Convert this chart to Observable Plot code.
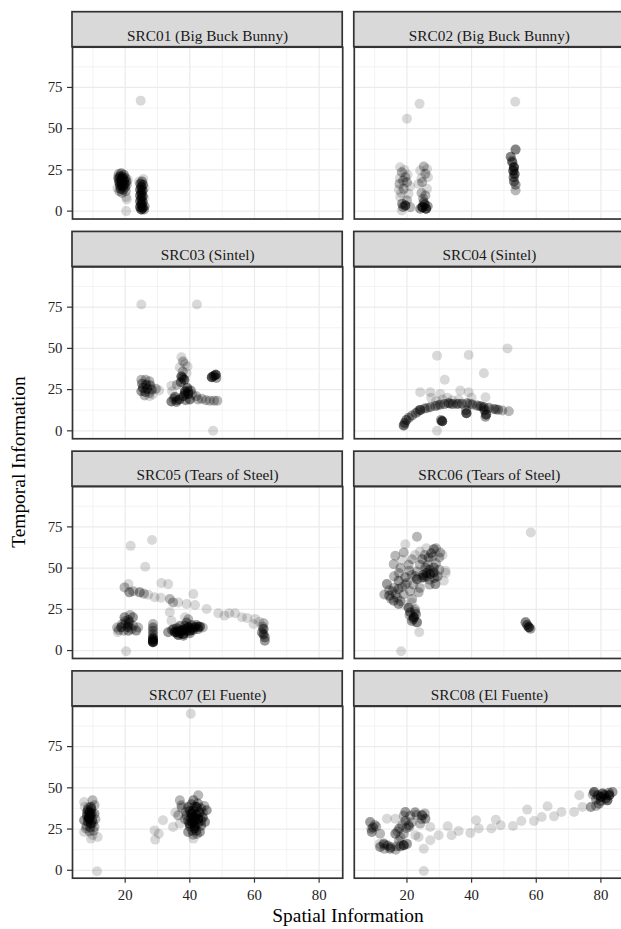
<!DOCTYPE html>
<html><head><meta charset="utf-8">
<script src="https://cdn.jsdelivr.net/npm/d3@7"></script>
<script src="https://cdn.jsdelivr.net/npm/@observablehq/plot@0.6"></script>
<style>
body{margin:0;background:#fff;}
#wrap{position:relative;width:621px;height:929px;overflow:hidden;font-family:"Liberation Serif","Times New Roman",serif;}
.ttl{position:absolute;font-size:19.4px;line-height:19px;color:#000;white-space:nowrap;}
</style></head><body>
<div id="wrap"></div>
<script>
// ---- data: [spatial information, temporal information, frames stacked at that spot]
const panelLabels = ["SRC01 (Big Buck Bunny)","SRC02 (Big Buck Bunny)","SRC03 (Sintel)","SRC04 (Sintel)","SRC05 (Tears of Steel)","SRC06 (Tears of Steel)","SRC07 (El Fuente)","SRC08 (El Fuente)"];
const src01 = [[18.0,22.5,2],[18.8,23,3],[19.6,22,3],[18.4,21,4],[19.2,20.5,5],[20.1,20,3],[18.0,19.5,4],[18.8,19,5],[19.6,18.5,5],[20.4,18,3],[18.2,17.5,5],[19.0,17,5],[19.8,16.5,5],[20.5,16,2],[18.4,15.5,5],[19.2,15,5],[20,14.5,3],[18.6,13.5,4],[19.4,13,3],[18.2,12,2],[20.2,12,2],[19,11,2],[17.6,14,1],[17.8,20.5,2],[20.8,19,1],[20.3,8.5,1],[20.5,7,1],[20.3,0,1],
[25.6,19.5,1],[25.2,18,3],[24.7,16.5,4],[25.5,16,4],[25.0,14.5,5],[24.6,13,4],[25.4,12.5,5],[25.0,11,5],[24.6,9.5,4],[25.4,9,5],[25.0,7.5,5],[24.6,6,4],[25.4,5.5,5],[25.0,4,6],[24.6,2.5,5],[25.4,2,6],[25.0,1,6],[25.8,1,3],[26.0,3,3],[25.9,8,1],[26,14,1],[24.3,18,1],[24.8,67,1]];
const src02 = [[17.9,26.6,1],[18.4,23.6,2],[19.5,20.6,2],[17.7,16.5,2],[20,17.5,2],[18.8,18.5,2],[19,13.5,2],[18.2,11,1],[20.5,10.5,1],[17.9,8.5,1],[20,6.5,2],[19.5,3.4,6],[18.8,2.5,3],[18.4,0.4,1],[21,2.4,2],[18.5,4.5,3],[17.5,13,1],[20.2,22,1],[19.2,25,1],[17.8,20,1],[21,15,1],
[25.2,27,2],[25.7,22.6,2],[24.1,24.6,1],[24.7,17.5,2],[26.2,13.5,1],[23.6,16.5,1],[25.7,9.5,2],[25.2,5.4,3],[24.8,2.4,8],[25.9,1.4,7],[24.1,1.4,3],[26.4,3,3],[26.5,20.5,1],[24.5,11,2],[25,7.5,2],[25.5,4,4],[26.2,25.5,1],[24.5,20,1],
[53.6,37.3,4],[52.1,33,4],[52.6,29.6,4],[53.1,26.6,7],[52.9,24.5,6],[53.3,22.5,5],[53.0,20.6,4],[53.1,18,4],[53.6,16,3],[53.6,12.5,2],[52.5,30.5,2],
[23.9,65.1,1],[20,56,1],[53.5,66.3,1]];
const src03 = [[25,76.6,1],[42.2,76.6,1],[47.2,0,1],
[25,31,2],[26.3,31,2],[27.5,30,2],[25.2,28.5,3],[26.5,28,4],[27.8,27.5,3],[25.5,26,4],[26.8,25.5,4],[28.2,25,3],[25,24,3],[26.2,23.5,3],[27.5,23,2],[29.5,25.5,2],[30.5,24.5,1],[26,21.5,2],[27.5,21,1],[28.5,22,1],
[37.4,44.6,1],[37.9,42,2],[38.5,40.5,1],[36.9,38.5,1],[39.3,39,1],[37.8,36,2],[37.4,33,5],[38.3,31,5],[37.2,29.5,4],[36,28,2],[34.3,27.4,1],[34.5,24,1],[35.4,20.5,4],[34.3,17.8,4],[35.8,17.5,3],[36.8,19,4],[38,21,5],[39.5,22.4,5],[38.5,24,5],[39.2,26,4],[40.3,24.5,3],[40.8,22,2],[40,19,4],[38.7,18.5,3],[39,35,1],
[37.8,32,3],[38.5,22.5,3],[36,18.5,3],[35,19.5,2],[39.5,24,3],
[42,21,2],[42.5,19,2],[43.7,19.4,2],[45,18.5,2],[46.2,18.3,2],[47.5,18.3,2],[48.5,18.2,2],
[46.8,32.5,7],[48,34,7],[47.4,33.2,4],[48.2,32,3]];
const src04 = [[29.3,45.6,1],[39.1,46,1],[51.1,50,1],[31.7,31,1],[43.8,34.9,1],[44.3,20.4,1],[24.1,23.4,1],[27.2,23.4,1],[30.3,22.4,1],[36.5,24.4,1],[39.1,23.4,1],[29.3,0,1],[27.5,20,1],[32.5,20,1],[40,20,1],[31,19,1],[34,18.5,1],[36,19,1],[29,18,1],
[19,3.2,5],[19.3,4.8,4],[19.8,6.5,4],[20.6,8,3],[21.6,9.3,3],[22.8,10.8,3],[24.1,12.7,6],[25.5,13.5,3],[27.2,14.3,3],[28.8,15,3],[30.3,15.9,3],[31.6,16.2,3],[32.9,16.7,4],[34.2,16.2,3],[35.5,16.3,3],[37,16.5,3],[38.6,16.7,3],[40.2,16,3],[41.7,15.3,3],[43,14.8,3],[43.8,14.3,4],[45.3,14,3],[46.9,13.3,3],[48.2,12.8,3],[49.5,12.3,2],[51.5,11.9,2],
[33.5,16.5,2],[36,16.5,2],[39.5,16.4,2],[42.5,15,2],[26.3,13.8,2],[23.4,11.8,2],[47.5,13,2],[29.5,15.5,2],
[30.9,5.8,8],[30.5,6.5,3],[38.4,10.7,7],[38.3,12.5,3],[44.5,9.9,6],[44,12.5,4],[44.3,8.5,3]];
const src05 = [[21.7,63.5,1],[28.3,67.1,1],[26.2,50.8,1],[20.3,-0.4,1],
[19.8,38.3,2],[21,40.3,1],[21.3,35.3,3],[22.5,36,2],[24.5,35.3,3],[25.8,34.5,2],[27.1,33.9,1],[29.1,32.3,1],[31.2,40.9,1],[33.3,40.3,1],[31,32,1],[33.8,31.3,2],[34.8,29.2,2],[33.8,23.2,1],[36.4,29.2,1],[39,28.2,1],[41.1,34.3,1],[41.6,27.6,1],[45.2,25.2,1],[48.8,22.6,1],[50.7,21.2,1],[52.2,22.6,1],[54,22.6,1],[56.1,20.2,1],[57.7,19.8,1],[60.2,19.2,1],[59.7,16.1,1],[62.8,16.5,2],[61.5,17.5,1],
[62.8,13.1,4],[62.3,11,3],[62.8,9.7,4],[63.2,8,3],[63.2,6,3],[62.5,14.5,2],
[18.8,14.1,4],[20.8,14.1,4],[22.4,20.2,3],[19.8,20.2,3],[21,18.5,3],[23.4,12.1,3],[17.7,11.1,1],[21.3,17.1,3],[17.5,14,2],[21,12,3],[24,14,2],[21.5,21.5,2],[19.5,12,2],[22.5,15,2],[20,16.5,2],
[19,16,2],[21,15.5,3],[22,13,2],[20,18,2],[18,12.5,2],
[28.6,16.1,2],[28.6,14,3],[28.6,12,3],[28.6,10,3],[28.6,8,4],[28.6,6.5,6],[28.6,5,8],[28.6,5.5,4],[28.6,7,3],
[35.4,11.1,6],[37.4,12.1,8],[39.5,14.1,7],[41.6,14.1,5],[43.1,14.5,5],[36.4,9.5,5],[34.3,18.1,1],[38.5,20.2,1],[33.3,11.1,3],[38,10,6],[40,12,6],[39,17,3],[37,15,3],[42,15.5,3],[34.5,12.5,3],[36,13.5,4],[38.5,13,4],[40.5,15.5,3],[38,9,3],[40,10.5,3],[42.5,13,3],[39.5,19,2],
[36,11,4],[37,10.5,4],[39,12,4],[41,12.5,4],[42.5,14.5,3],[35,13,3],[38.5,15,3],[40.5,13.5,4],[44,14,2],[36.5,12,3]];
const src06 = [[58.3,71.6,1],[18.2,-0.4,1],[23.1,69,2],[23.8,11.1,1],
[19.5,64.5,1],[16.4,57.5,2],[19,59.5,2],[15.9,52.4,2],[21.6,55.4,2],[24.7,55.4,3],[28.3,61.5,3],[30.3,59.5,2],[26.7,56.5,3],[27.5,59,3],[31.9,48.4,1],[27.2,46.4,4],[25.2,44.4,4],[23.1,43.3,4],[19.5,44.4,3],[17.4,42.3,3],[13.8,40.3,3],[17.4,37.3,3],[14.5,33.3,3],[17.4,28.2,3],[15.9,30.2,3],[23.6,35.3,2],[21.6,31.3,2],[28.8,40.3,3],[31.4,42.3,1],[28.3,47.4,4],[28.3,50.4,3],[25.7,50.4,3],[20.7,48.4,2],[22,40,2],[26,47,4],[29.5,45,3],[30,56.5,2],[18,50,2],[21,36,2],[15.5,36,2],[13,34,2],[20.5,26,2],[24,60,1],[29,62,2],[24,52,2],[21.5,46,2],[19,34,2],[16,45,2],[23,48,2],[27,43,2],[31,58,1],[26,62,1],[18.5,55,1],[32,47,1],
[25,46,3],[27,49,3],[24.5,44,2],[22.5,45,2],[20,41,2],[18.5,38.5,2],[16,38,2],[15,31.5,2],[17,32,2],[18,30,2],[26.5,52,2],[29,53,2],[28,57,2],[25.5,58,2],[22.5,58,1],[20.5,52,2],[17.5,47,2],[19.5,40,2],[24,38,2],[27,40,2],[30,49,2],[28.5,44,3],[26,45,3],[14.5,36.5,2],[16.5,34,2],
[22.1,20.2,6],[21,23.2,4],[23.1,17.1,4],[21.5,18,3],[22.5,25,2],[22.8,22,3],[20.5,26,2],[20.8,21.5,2],[22,19,3],[22.5,23.5,2],[21.5,29,1],[19,28,1],
[56.7,17.1,4],[57.7,14.1,7],[57.2,15.5,4],[58.2,13.2,3]];
const src07 = [[40.3,95,1],[11.3,-0.6,1],
[7.3,41.4,1],[9.9,42.4,2],[8.4,36.4,4],[9.4,38.4,4],[8.9,31.3,6],[7.3,30.3,3],[10.5,34.3,3],[9.4,28.3,5],[7.9,25.3,2],[10.5,26.3,2],[7.3,23.2,1],[9.9,21.2,1],[11.5,20.2,1],[9.4,19.2,1],[9.2,33.3,6],[8.2,33,4],[10.8,31,2],[9,35,5],[8.5,29.5,4],[10,29,3],[9.5,37,3],[8,27,2],[10.2,24,2],[9,23.5,2],[10.5,39.5,2],[7.5,38.5,1],
[8.8,32,4],[9.6,34.5,4],[8.2,35,3],[9.8,30.5,3],[8.6,38,2],[9.2,26,3],[8.6,31.5,3],
[29.1,24.2,1],[29.3,18.6,1],[30.4,22.2,1],[31.7,30.3,1],[34.8,26.3,1],[36.9,28.3,1],[36.4,33.3,2],[36.9,42.4,2],[37.5,38,2],[35.5,35,1],
[42.6,45.5,2],[41.1,42.4,3],[39.5,38.4,3],[42.1,38.4,5],[45.2,36.4,3],[40.5,34.3,7],[42.6,31.3,7],[39.9,28.3,5],[44.7,29.3,3],[41.5,25.3,5],[39.5,23.2,3],[43.1,23.2,3],[41.1,19.2,1],[37.4,39.4,2],[41.2,32.3,8],[40.8,29,7],[43,35,5],[44,32,4],[40,36,4],[41.5,27,6],[38.5,31,2],[42.5,40.5,3],[43.5,27,3],[41,21.5,2],[44.5,39,2],[39,33,3],[42,24,3],[40.5,40,3],
[41.5,30.5,5],[40.5,31.5,4],[42,33.5,4],[41,36,4],[43.5,30,3],[40,26.5,3],[42.5,28.5,4],[39.5,30,3],[41.5,38.5,3],[43.5,37.5,3],[40.8,24,3],[42.2,22,2],[44,35,2],[38.8,35.5,2]];
const src08 = [[25.2,-0.4,1],[25.2,13.1,1],
[8.6,29.3,3],[9.1,23.2,3],[9.5,26,3],[11.7,22.2,2],[13.8,31.3,1],[16.4,31.3,1],[19.5,35.4,3],[22.6,35.4,1],[24.7,33.3,4],[25.7,31.3,3],[27.2,26.3,1],[24.1,28.3,2],[20.5,27.3,3],[17.6,25.3,3],[16.4,22.2,3],[12.8,16.2,3],[14.8,13.1,3],[19,15.2,6],[11.7,14.1,3],[22.6,21.2,1],[23.6,20.2,1],[20.7,26.3,2],[10.5,26.5,2],[14,15,3],[16.5,12.5,2],[18,20,2],[19.5,30,3],[19,33,2],[18.5,27.5,2],[16.8,14.5,2],[13,13,2],[25.5,34.5,2],[21.5,29,2],[17,23.5,2],
[10,27.5,2],[9,25,2],[15,14,3],[18,14.5,3],[20,16,3],[21,33,2],[23,33.5,2],[24.5,31,2],[19.8,25.5,2],[19,22,2],[17.5,18,2],[13,15.5,2],[11.5,16,1],[22.5,35,2],
[27.2,18.2,1],[29.8,21.2,1],[32.6,26.7,1],[33.8,21.2,1],[36,23.8,1],[39.6,22.6,1],[41.4,30.3,1],[42.2,25.3,1],[46.1,25.3,1],[47.5,30.7,1],[49,27.3,1],[52.8,26.9,1],[55.4,29.9,1],[57.2,36.8,1],[59.3,29.9,1],[61.7,32.3,1],[63.5,38.8,1],[65.5,32.7,1],[67.8,35.4,1],[71.7,35.4,1],[73.3,45.5,1],[74.3,38.4,1],
[77.9,47.5,5],[80,44.4,6],[82.6,45.5,6],[82,42.4,5],[79.4,40.4,3],[76.9,38.4,3],[83.6,47.5,3],[80.5,46.5,5],[78.5,43,3],[81,45.5,4],[78.5,39,2],
[79,45.5,4],[81.5,43.5,4],[80,42,3],[82.5,47,3],[77.5,46,2]];
const xTicks = [20, 40, 60, 80];
const yTicks = [0, 25, 50, 75];
const xMinor = [10, 30, 50, 70];
const yMinor = [12.5, 37.5, 62.5, 87.5];
const xTitle = "Spatial Information";
const yTitle = "Temporal Information";

// ---- build tables
const series = [src01, src02, src03, src04, src05, src06, src07, src08];
const points = series.flatMap((s, i) => s.flatMap(([x, y, n]) =>
  Array.from({length: n}, () => ({x, y, col: i % 2, row: Math.floor(i / 2)}))));
const strips = panelLabels.map((label, i) => ({label, col: i % 2, row: Math.floor(i / 2)}));

// ---- layout
const W = 621, H = 929, mT = 46.7, mB = 51.3, mL = 72, mR = -3;
const padX = 0.041, padY = 0.218;
const xDom = [3.7, 87.3], yDom = [-4.8, 99.4];
const stripPx = 35;
const bandH = (H - mT - mB) / (4 - padY) * (1 - padY);
const unitPx = bandH / (yDom[1] - yDom[0]);
const stripTop = yDom[1] + stripPx / unitPx;

const chart = Plot.plot({
  width: W, height: H,
  marginTop: mT, marginBottom: mB, marginLeft: mL, marginRight: mR,
  style: {fontFamily: "'Liberation Serif', 'Times New Roman', serif", background: "#fff", overflow: "visible"},
  fx: {domain: [0, 1], paddingInner: padX, paddingOuter: 0, round: false, axis: null},
  fy: {domain: [0, 1, 2, 3], paddingInner: padY, paddingOuter: 0, round: false, axis: null},
  x: {domain: xDom},
  y: {domain: yDom},
  marks: [
    Plot.gridX(xMinor, {stroke: "#ebebeb", strokeOpacity: 1, strokeWidth: 0.6}),
    Plot.gridY(yMinor, {stroke: "#ebebeb", strokeOpacity: 1, strokeWidth: 0.6}),
    Plot.gridX(xTicks, {stroke: "#ebebeb", strokeOpacity: 1, strokeWidth: 1.2}),
    Plot.gridY(yTicks, {stroke: "#ebebeb", strokeOpacity: 1, strokeWidth: 1.2}),
    Plot.dot(points, {x: "x", y: "y", fx: "col", fy: "row", r: 5, fill: "#000", fillOpacity: 0.15, stroke: null}),
    Plot.frame({stroke: "#333", strokeWidth: 1.7}),
    Plot.rect(strips, {fx: "col", fy: "row", x1: () => xDom[0], x2: () => xDom[1], y1: () => yDom[1], y2: () => stripTop,
      fill: "#d9d9d9", stroke: "#333", strokeWidth: 1.7}),
    Plot.text(strips, {fx: "col", fy: "row", text: "label", frameAnchor: "top", dy: -stripPx / 2, fontSize: 15.3, fill: "#1a1a1a"}),
    Plot.axisX(xTicks, {tickSize: 5, tickPadding: 6, fontSize: 14.8, label: null, stroke: "#333", strokeWidth: 1.2, fill: "#222"}),
    Plot.axisY(yTicks, {tickSize: 5, tickPadding: 5, fontSize: 14.8, label: null, stroke: "#333", strokeWidth: 1.2, fill: "#222"})
  ]
});

const wrap = document.getElementById("wrap");
wrap.appendChild(chart);
const yt = document.createElement("div");
yt.className = "ttl"; yt.textContent = yTitle;
yt.style.left = "18px"; yt.style.top = "462px";
yt.style.transform = "translate(-50%,-50%) rotate(-90deg)";
wrap.appendChild(yt);
const xt = document.createElement("div");
xt.className = "ttl"; xt.textContent = xTitle;
xt.style.left = "348px"; xt.style.top = "906px";
xt.style.transform = "translateX(-50%)";
wrap.appendChild(xt);
</script>
</body></html>
